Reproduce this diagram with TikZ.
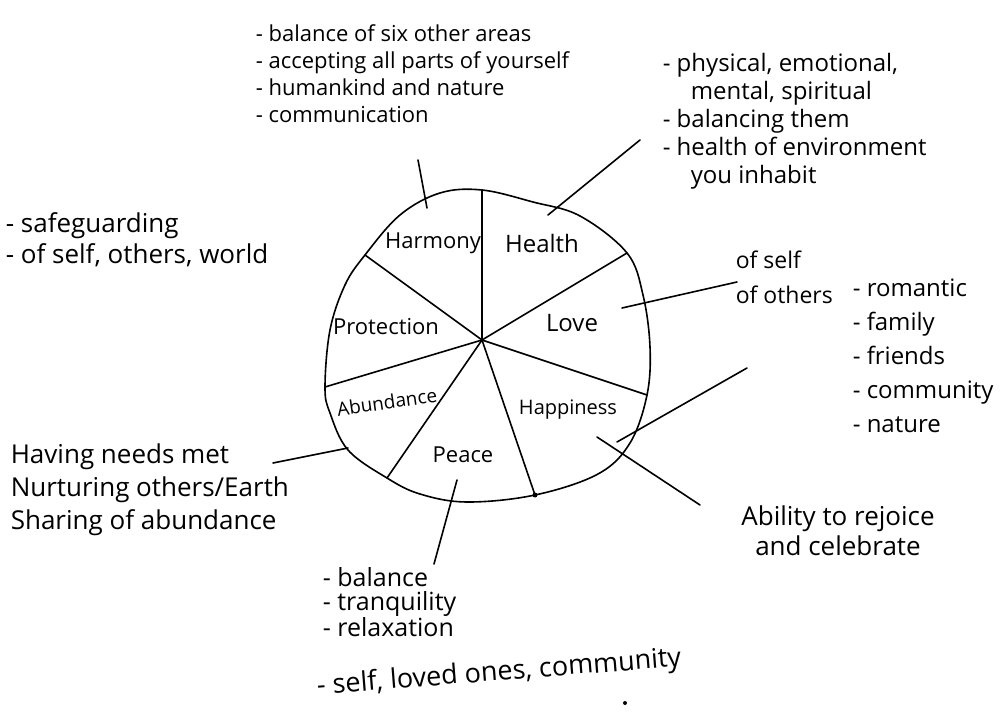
\documentclass[tikz,border=0pt]{standalone}
\usepackage{fontspec}
\setmainfont{Open Sans}
\usetikzlibrary{positioning}

\begin{document}
\begin{tikzpicture}[x=1pt, y=-1pt, line width=1.6pt, line cap=round, sector/.style={font=\fontsize{21}{24}\selectfont, inner sep=1pt}, note/.style={align=left, anchor=north west, inner sep=0pt, font=\fontsize{22}{27}\selectfont}]

  \useasboundingbox (0,0) rectangle (1005,714);

  % wheel
  \coordinate (hub) at (482,340);
  \coordinate (sup) at (482,190);
  \coordinate (sloveh) at (627,253);
  \coordinate (shappl) at (647,395);
  \coordinate (speaceh) at (535,495);
  \coordinate (sabunp) at (387,478);
  \coordinate (sprota) at (325,387);
  \coordinate (sharmp) at (365,255);
  \draw plot[smooth cycle, tension=0.6] coordinates {(sup) (533,202) (580,216) (sloveh) (643,295) (650,347) (shappl) (630,443) (598,474) (speaceh) (467,502) (420,494) (sabunp) (348,450) (330,413) (sprota) (330,330) (345,285) (sharmp) (400,215) (440,193)};
  \foreach \s in {sup, sloveh, shappl, speaceh, sabunp, sprota, sharmp}
    \draw (hub) -- (\s);
  \fill (speaceh) circle (2.5pt);

  \node[sector, font=\fontsize{22}{24}\selectfont] (harmony) at (433,243) {Harmony};
  \node[sector, font=\fontsize{24}{24}\selectfont] (health) at (542,244) {Health};
  \node[sector, font=\fontsize{24}{24}\selectfont] (love) at (572,323) {Love};
  \node[sector, font=\fontsize{22}{24}\selectfont] (protection) at (386,327) {Protection};
  \node[sector, font=\fontsize{19}{24}\selectfont, rotate=8] (abundance) at (387,402) {Abundance};
  \node[sector, font=\fontsize{20}{24}\selectfont] (happiness) at (568,410) {Happiness};
  \node[sector, font=\fontsize{22}{24}\selectfont] (peace) at (463,455) {Peace};

  % notes
  \node[note] (harmnotes) at (255,24) {- balance of six other areas\\- accepting all parts of yourself\\- humankind and nature\\- communication};
  \node[note, font=\fontsize{24}{28}\selectfont] (healthnotes) at (662,52) {- physical, emotional,\\\hspace*{28pt}mental, spiritual\\- balancing them\\- health of environment\\\hspace*{28pt}you inhabit};
  \node[note, font=\fontsize{26}{31}\selectfont] (protnotes) at (5,212) {- safeguarding\\- of self, others, world};
  \node[note, font=\fontsize{23}{35}\selectfont] (lovenotes) at (735,250) {of self\\of others};
  \node[note, font=\fontsize{24}{34}\selectfont] (lovelist) at (852,278) {- romantic\\- family\\- friends\\- community\\- nature};
  \node[note, font=\fontsize{26}{33}\selectfont] (abunnotes) at (10,443) {Having needs met\\Nurturing others/Earth\\Sharing of abundance};
  \node[align=center, font=\fontsize{26}{30}\selectfont] (happnotes) at (838,531) {Ability to rejoice\\and celebrate};
  \node[note, font=\fontsize{25}{24}\selectfont] (peacenotes) at (322,567) {- balance\\- tranquility\\- relaxation};
  \node[font=\fontsize{27}{27}\selectfont, rotate=4.5, anchor=west] (peacelast) at (313,688) {- self, loved ones, community};
  \fill (625,703) circle (2pt);

  % connectors
  \coordinate (harmin) at (427,208);
  \coordinate (harmout) at (418,160);
  \coordinate (healthin) at (548,215);
  \coordinate (healthout) at (640,140);
  \coordinate (lovein) at (622,308);
  \coordinate (loveout) at (737,282);
  \coordinate (happin) at (617,442);
  \coordinate (happout) at (747,368);
  \coordinate (happinb) at (597,437);
  \coordinate (happoutb) at (700,505);
  \coordinate (abunin) at (348,448);
  \coordinate (abunout) at (273,463);
  \coordinate (peacein) at (457,480);
  \coordinate (peaceout) at (434,564);
  \draw (harmin) -- (harmout);
  \draw (healthin) -- (healthout);
  \draw (lovein) -- (loveout);
  \draw (happin) -- (happout);
  \draw (happinb) -- (happoutb);
  \draw (abunin) -- (abunout);
  \draw (peacein) -- (peaceout);
\end{tikzpicture}
\end{document}
